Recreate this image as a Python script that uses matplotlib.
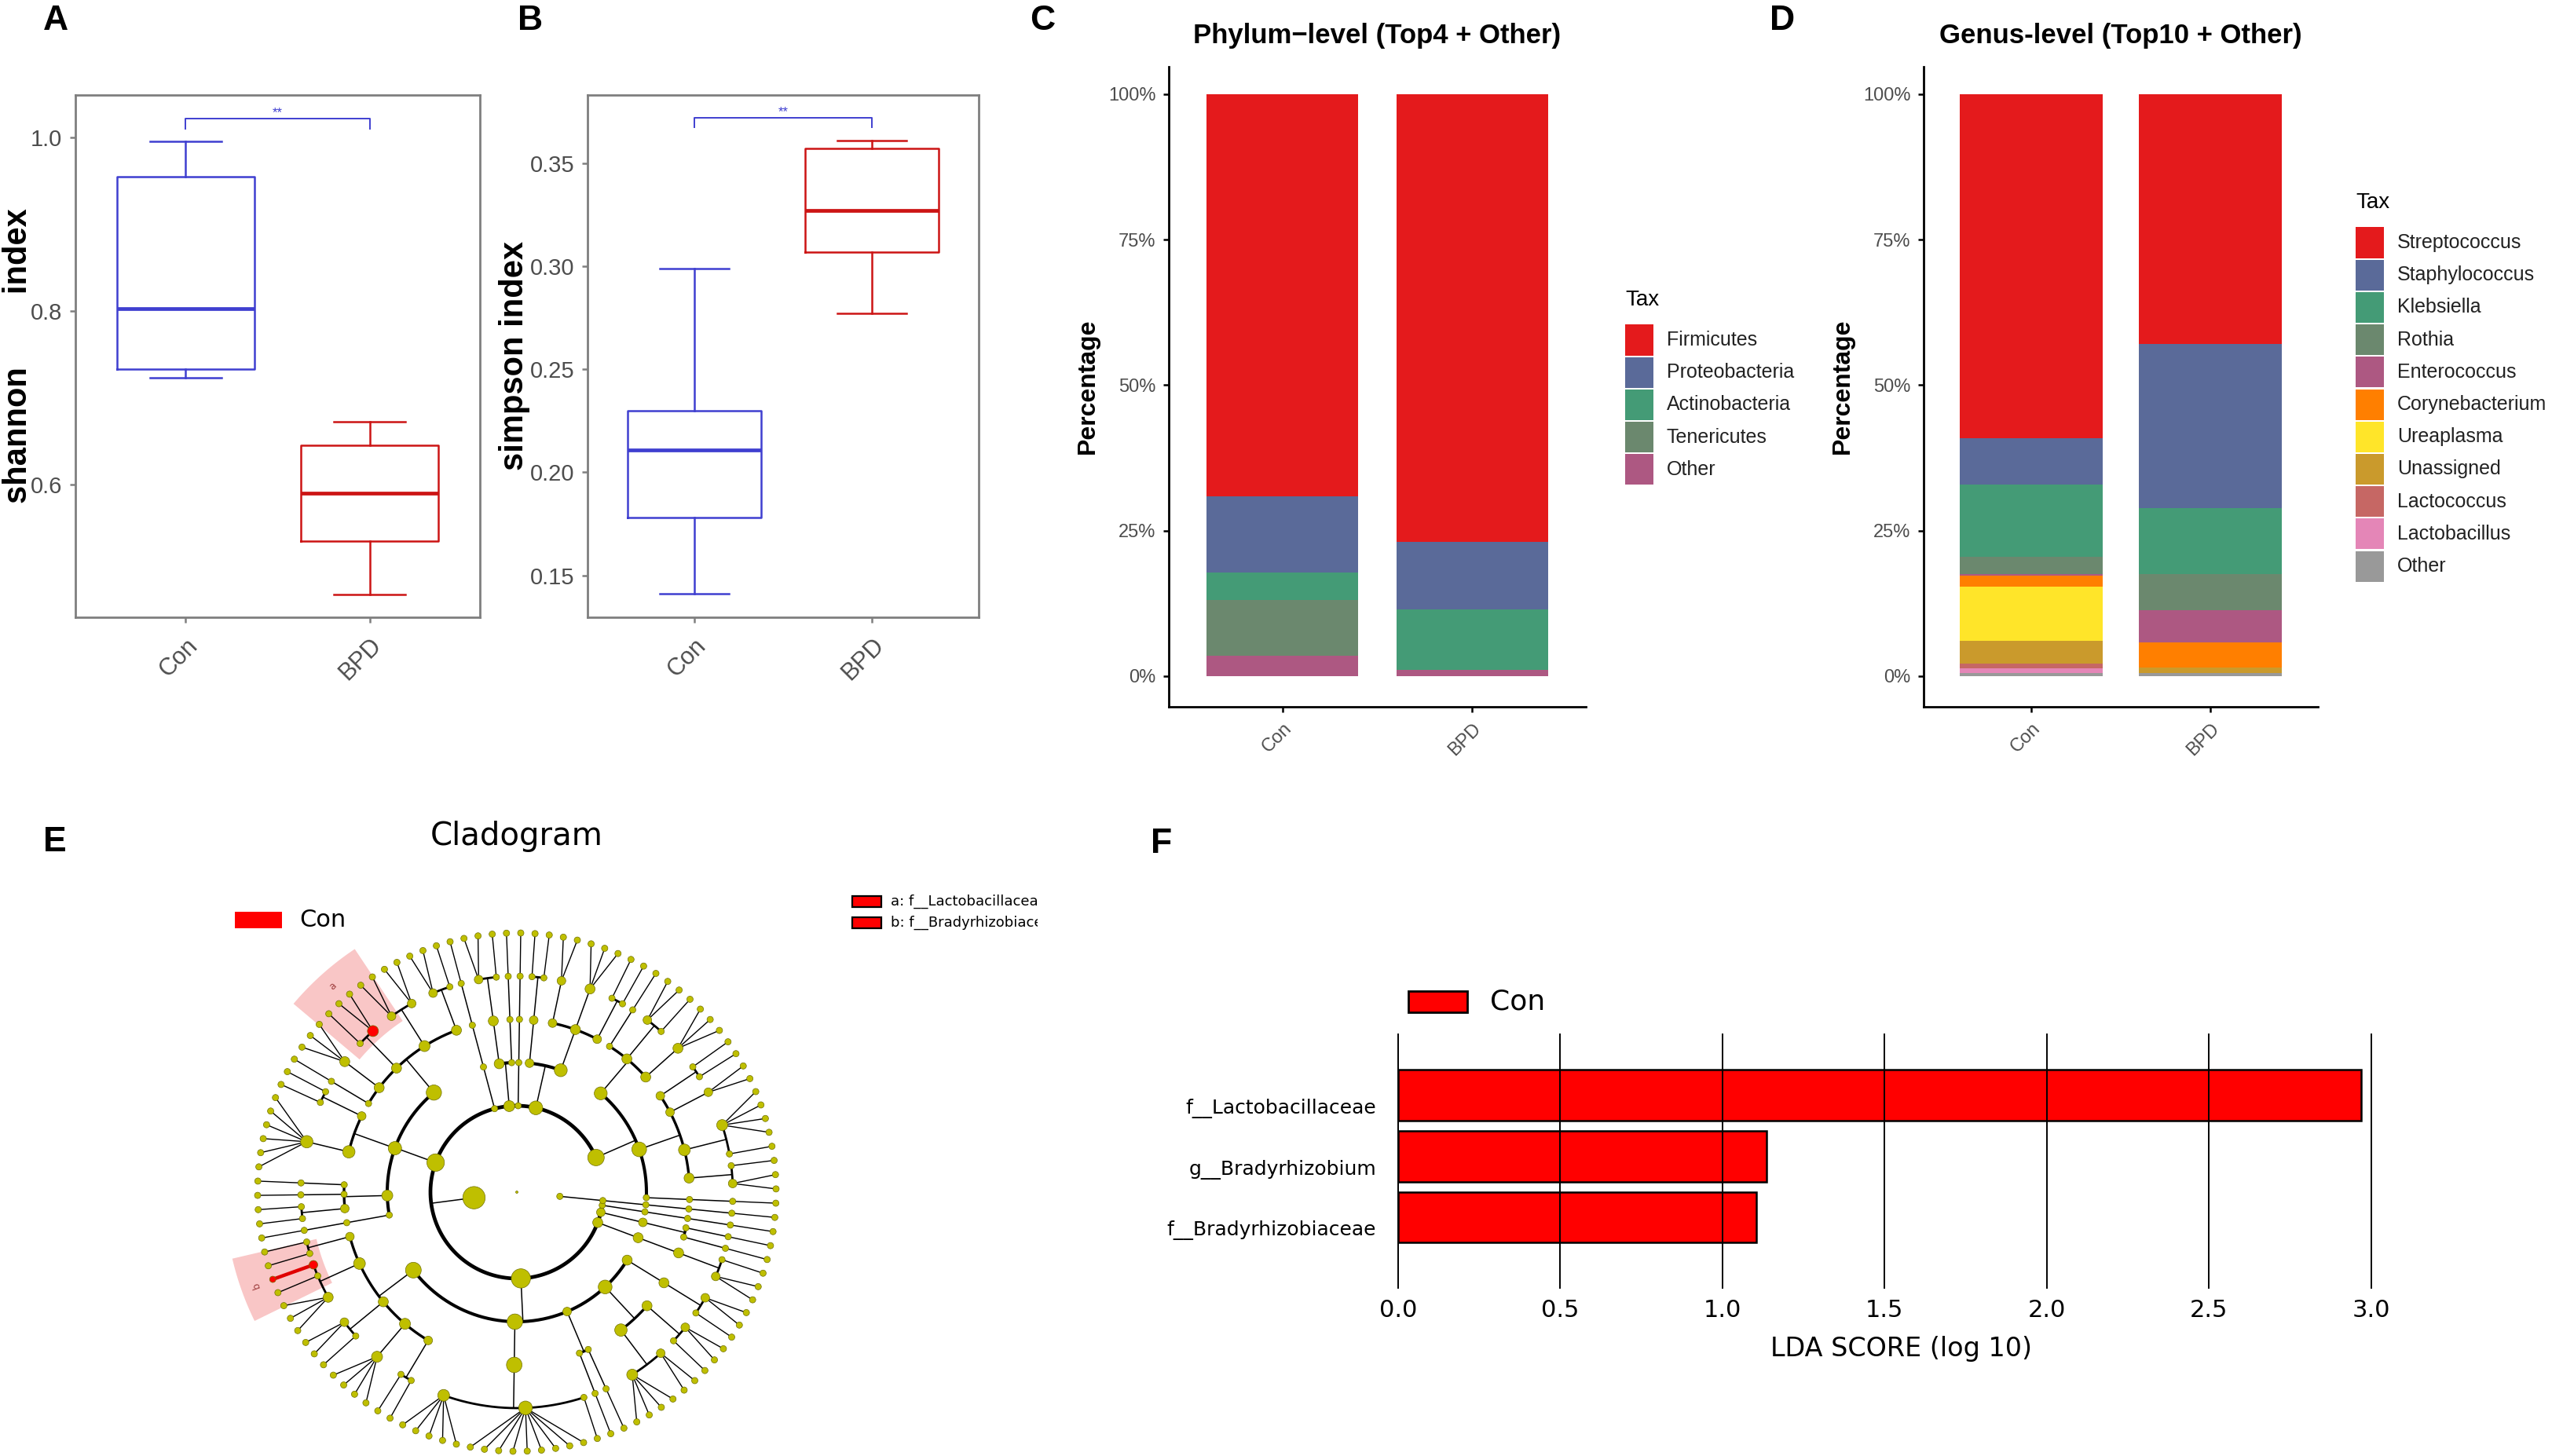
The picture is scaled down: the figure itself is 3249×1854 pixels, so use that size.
import numpy as np
import matplotlib.pyplot as plt
import matplotlib.transforms as mtransforms
from matplotlib.patches import Rectangle, Polygon

plt.rcParams['font.family'] = ['Liberation Sans', 'DejaVu Sans']

# ---------------- data ----------------
groups = ['Con', 'BPD']

# boxplot summaries: lower whisker, Q1, median, Q3, upper whisker
shannon_con = [0.723, 0.733, 0.803, 0.955, 0.996]
shannon_bpd = [0.473, 0.535, 0.590, 0.645, 0.672]
simpson_con = [0.141, 0.178, 0.211, 0.230, 0.299]
simpson_bpd = [0.277, 0.307, 0.327, 0.357, 0.361]

phylum_tax = ['Firmicutes', 'Proteobacteria', 'Actinobacteria', 'Tenericutes', 'Other']
phylum_con = [0.691, 0.131, 0.048, 0.095, 0.035]
phylum_bpd = [0.769, 0.116, 0.104, 0.000, 0.011]

genus_tax = ['Streptococcus', 'Staphylococcus', 'Klebsiella', 'Rothia', 'Enterococcus',
             'Corynebacterium', 'Ureaplasma', 'Unassigned', 'Lactococcus', 'Lactobacillus', 'Other']
genus_con = [0.591, 0.080, 0.124, 0.030, 0.002, 0.019, 0.094, 0.039, 0.008, 0.008, 0.005]
genus_bpd = [0.429, 0.282, 0.114, 0.062, 0.055, 0.043, 0.000, 0.010, 0.000, 0.000, 0.005]

tax_colors = ['#E41A1C', '#5A6A99', '#449B76', '#6B886E', '#AD5882', '#FF7F00',
              '#FFE529', '#CA9A2C', '#C66764', '#E486B7', '#999999']

# cladogram: phylum > class > order > family (int = number of genera)
# ('a', n) / ('b', n) mark the families found by LEfSe
clade_left = [
    [[[1]], [[2, 1], [1, 4], [2], [1, 1]], [[3], [1, 2], [1]]],
    [[[1, 1], [3], [2]], [[1, 1]]],
    [[[1]]],
    [[[1]], [[1, 2]]],
    [[[1]]],
    [[[1, 2], [2, 2], [('a', 2), 1], [3], [1]], [[1, 1], [6]], [[1], [1], [1, 1]], [[1]]],
    [[[1, 1], [('b', 1), 1, 3], [2, 1], [4], [1, 1]], [[5, 9, 1]], [[1], [1]],
     [[4, 2], [1, 2]], [[1, 2]]],
    [[[2, 1]]],
    [[[1], [1]]],
    [[[1]]],
]
clade_right = [[[[1]]]]
clade_hits = {'a': 'f__Lactobacillaceae', 'b': 'f__Bradyrhizobiaceae'}

lda_features = ['f__Lactobacillaceae', 'g__Bradyrhizobium', 'f__Bradyrhizobiaceae']
lda_scores = [2.97, 1.135, 1.105]

# ---------------- figure helpers ----------------
W, H, DPI = 3249, 1854, 200
fig = plt.figure(figsize=(W / DPI, H / DPI), dpi=DPI)


def box(x0, y0, x1, y1):
    return [x0 / W, 1 - y1 / H, (x1 - x0) / W, (y1 - y0) / H]


def ftext(x, y, s, **kw):
    fig.text(x / W, 1 - y / H, s, **kw)


def frect(x0, y0, x1, y1, **kw):
    fig.add_artist(Rectangle((x0 / W, 1 - y1 / H), (x1 - x0) / W, (y1 - y0) / H,
                             transform=fig.transFigure, **kw))


grey_txt = '#4D4D4D'
blue, red = '#3F3FD0', '#CC1414'

# panel letters
for s, x, y in [('A', 55, 26), ('B', 659, 26), ('C', 1311, 26), ('D', 2253, 26),
                ('E', 55, 1073), ('F', 1465, 1075)]:
    ftext(x, y, s, fontsize=16, fontweight='bold', va='center', ha='left')


# ---------------- A / B : alpha diversity ----------------
def alpha_panel(rect, con, bpd, ylim, yticks, ylabels, sig):
    ax = fig.add_axes(box(*rect))
    for pos, v, c in [(1, con, blue), (2, bpd, red)]:
        st = dict(whislo=v[0], q1=v[1], med=v[2], q3=v[3], whishi=v[4], fliers=[])
        ax.bxp([st], positions=[pos], widths=0.75, capwidths=0.39, showfliers=False,
               manage_ticks=False,
               boxprops=dict(color=c, lw=0.9), whiskerprops=dict(color=c, lw=0.9),
               capprops=dict(color=c, lw=0.9), medianprops=dict(color=c, lw=1.7))
    y_bar, y_tip = sig
    ax.plot([1, 1, 2, 2], [y_tip, y_bar, y_bar, y_tip], color=blue, lw=0.7)
    ax.text(1.5, y_bar, '**', ha='center', va='bottom', color=blue, fontsize=6)
    ax.set_xlim(0.4, 2.6)
    ax.set_ylim(*ylim)
    ax.set_yticks(yticks)
    ax.set_yticklabels(ylabels)
    ax.set_xticks([1, 2])
    ax.set_xticklabels(groups, rotation=45, ha='right', rotation_mode='anchor')
    for sp in ax.spines.values():
        sp.set_color('#7F7F7F')
        sp.set_linewidth(1.0)
    ax.tick_params(color='#7F7F7F', length=2.5, width=0.9, labelcolor=grey_txt, labelsize=10.5)
    ax.tick_params(axis='x', pad=5, labelsize=11)
    return ax


alpha_panel((96, 121, 611, 786), shannon_con, shannon_bpd, (0.447, 1.049),
            [0.6, 0.8, 1.0], ['0.6', '0.8', '1.0'], (1.022, 1.010))
ftext(23, 453, 'shannon        index', rotation=90, ha='center', va='center',
      fontsize=15, fontweight='bold')

alpha_panel((748, 121, 1246, 786), simpson_con, simpson_bpd, (0.1297, 0.383),
            [0.15, 0.20, 0.25, 0.30, 0.35], ['0.15', '0.20', '0.25', '0.30', '0.35'],
            (0.372, 0.3675))
ftext(655, 453, 'simpson index', rotation=90, ha='center', va='center',
      fontsize=15, fontweight='bold')


# ---------------- C / D : stacked composition ----------------
def stack_panel(rect, tax, con, bpd, title, title_x, ylab_x, leg_x, tax_y, key_y0):
    ax = fig.add_axes(box(*rect))
    vals = np.array([con, bpd])
    x = np.array([1, 2])
    bottom = np.zeros(2)
    for j in range(len(tax) - 1, -1, -1):
        ax.bar(x, vals[:, j], bottom=bottom, width=0.8, color=tax_colors[j], lw=0)
        bottom += vals[:, j]
    ax.set_xlim(0.4, 2.6)
    ax.set_ylim(-0.053, 1.047)
    ax.set_yticks([0, 0.25, 0.5, 0.75, 1.0])
    ax.set_yticklabels(['0%', '25%', '50%', '75%', '100%'])
    ax.set_xticks([1, 2])
    ax.set_xticklabels(groups, rotation=45, ha='right', rotation_mode='anchor')
    for s in ['top', 'right']:
        ax.spines[s].set_visible(False)
    for s in ['left', 'bottom']:
        ax.spines[s].set_linewidth(1.0)
    ax.tick_params(length=2.5, width=0.9, labelcolor=grey_txt, labelsize=8.5)
    ftext(title_x, 45, title, ha='center', va='center', fontsize=12.5, fontweight='bold')
    ftext(ylab_x, 492, 'Percentage', rotation=90, ha='center', va='center',
          fontsize=11.5, fontweight='bold')
    ftext(leg_x, tax_y, 'Tax', ha='left', va='center', fontsize=10)
    step = 41.2
    for i, name in enumerate(tax):
        yc = key_y0 + i * step
        frect(leg_x, yc - 19.5, leg_x + 36, yc + 19.5, facecolor=tax_colors[i], lw=0)
        ftext(leg_x + 53, yc, name, ha='left', va='center', fontsize=9, color='#222222')
    return ax


stack_panel((1488, 85, 2019, 900), phylum_tax, phylum_con, phylum_bpd,
            'Phylum\u2212level (Top4 + Other)', 1753, 1385, 2069, 382, 433)
stack_panel((2449, 85, 2951, 900), genus_tax, genus_con, genus_bpd,
            'Genus-level (Top10 + Other)', 2700, 2346, 2999, 258, 309)

# ---------------- E : cladogram ----------------
axe = fig.add_axes(box(0, 1100, 1321, 1854))
axe.set_xlim(-658, 663)
axe.set_ylim(-336, 418)
axe.axis('off')

R = [0, 55, 110, 165, 220, 275, 330]
arc_lw = {2: 1.7, 3: 1.45, 4: 1.2, 5: 1.0}
olive = '#BFBF00'
clade_tree = [clade_left, clade_right]


def n_leaves(node):
    if isinstance(node, tuple):
        return node[1]
    if isinstance(node, int):
        return node
    return sum(n_leaves(c) for c in node)


step = 360.0 / n_leaves(clade_tree)
th0 = -5.6 + step
leaf_i = [0]
dots = []


def pt(r, th):
    t = np.radians(th)
    return r * np.cos(t), r * np.sin(t)


def diam(n):
    return 8 + 3.0 * np.log2(n)


def place(node, depth):
    if not isinstance(node, list):
        tag, n = node if isinstance(node, tuple) else (None, node)
        ths = [th0 + (leaf_i[0] + k) * step for k in range(n)]
        leaf_i[0] += n
        th = (ths[0] + ths[-1]) / 2
        hit = tag is not None
        fx, fy = pt(R[5], th)
        if hit:
            a = np.radians(np.linspace(ths[0] - 6.5, ths[-1] + 6.5, 40))
            poly = np.vstack([np.c_[372 * np.cos(a), 372 * np.sin(a)],
                              np.c_[262 * np.cos(a[::-1]), 262 * np.sin(a[::-1])]])
            axe.add_patch(Polygon(poly, closed=True, facecolor='#F9C6C6', lw=0, zorder=0))
            lx, ly = pt(352, th)
            axe.text(lx, ly, tag, fontsize=4.5, color='#A04040', ha='center', va='center',
                     rotation=th - 90, family='DejaVu Sans')
        for t in ths:
            lx, ly = pt(R[6], t)
            leaf_red = hit and n == 1
            axe.plot([fx, lx], [fy, ly], color='#E00000' if leaf_red else 'black',
                     lw=1.6 if leaf_red else 0.5, zorder=2)
            dots.append((lx, ly, 8, 'red' if leaf_red else olive))
        dots.append((fx, fy, diam(n) + (3 if hit else 0), 'red' if hit else olive))
        return th, n
    res = [place(c, depth + 1) for c in node]
    ths = [r[0] for r in res]
    n = sum(r[1] for r in res)
    th = (ths[0] + ths[-1]) / 2
    if depth >= 1:
        rc = R[depth + 1]
        x0, y0 = pt(R[depth], th)
        x1, y1 = pt(rc, th)
        axe.plot([x0, x1], [y0, y1], color='black', lw=0.55, zorder=2)
        if len(ths) > 1:
            a = np.radians(np.linspace(ths[0], ths[-1], 300))
            axe.plot(rc * np.cos(a), rc * np.sin(a), color='black', lw=arc_lw[depth + 1],
                     solid_capstyle='butt', zorder=2)
        dots.append((x0, y0, diam(n), olive))
    return th, n


place(clade_tree, 0)
dots.append((0, 0, 3, olive))
dx, dy, dd, dc = zip(*dots)
axe.scatter(dx, dy, s=(np.array(dd) * 0.36) ** 2, c=list(dc), edgecolors='#707000',
            linewidths=0.25, zorder=3)

ftext(658, 1065, 'Cladogram', ha='center', va='center', fontsize=14.5, family='DejaVu Sans')
frect(299, 1161, 359, 1182, facecolor='red', lw=0)
ftext(381, 1172, 'Con', ha='left', va='center', fontsize=11, family='DejaVu Sans')
for i, (tag, name) in enumerate(clade_hits.items()):
    yc = 1148 + 27 * i
    frect(1085, yc - 7, 1122, yc + 7, facecolor='red', edgecolor='black', lw=0.8)
    axe.text(1134 - 658, 1518 - yc, f'{tag}: {name}', fontsize=6.5, ha='left', va='center',
             family='DejaVu Sans', clip_on=True)

# ---------------- F : LDA scores ----------------
axf = fig.add_axes(box(1780, 1317, 3060, 1640))
yy = np.arange(len(lda_features))[::-1]
axf.barh(yy, lda_scores, height=0.83, color='#FF0000', edgecolor='black', lw=0.9, zorder=1)
axf.set_xlim(0, 3.1)
axf.set_ylim(-1.16, 3.0)
axf.set_xticks(np.arange(0, 3.01, 0.5))
axf.set_xticklabels([f'{v:.1f}' for v in np.arange(0, 3.01, 0.5)])
axf.set_yticks(yy)
axf.set_yticklabels(lda_features)
axf.grid(axis='x', color='black', lw=0.7)
axf.set_axisbelow(False)
for gl in axf.get_xgridlines():
    gl.set_clip_on(False)
for sp in axf.spines.values():
    sp.set_visible(False)
axf.tick_params(axis='x', length=0, labelsize=11, pad=5)
axf.tick_params(axis='y', length=0, labelsize=9, pad=10)
shift = mtransforms.ScaledTranslation(0, -0.07, fig.dpi_scale_trans)
for lbl in axf.get_xticklabels() + axf.get_yticklabels():
    lbl.set_family('DejaVu Sans')
for lbl in axf.get_yticklabels():
    lbl.set_transform(lbl.get_transform() + shift)
ftext(2420, 1717, 'LDA SCORE (log 10)', ha='center', va='center', fontsize=12,
      family='DejaVu Sans')
frect(1793, 1262, 1868, 1289, facecolor='#FF0000', edgecolor='black', lw=1.0)
ftext(1897, 1276, 'Con', ha='left', va='center', fontsize=13, family='DejaVu Sans')

fig.savefig('out.png', dpi=DPI)
